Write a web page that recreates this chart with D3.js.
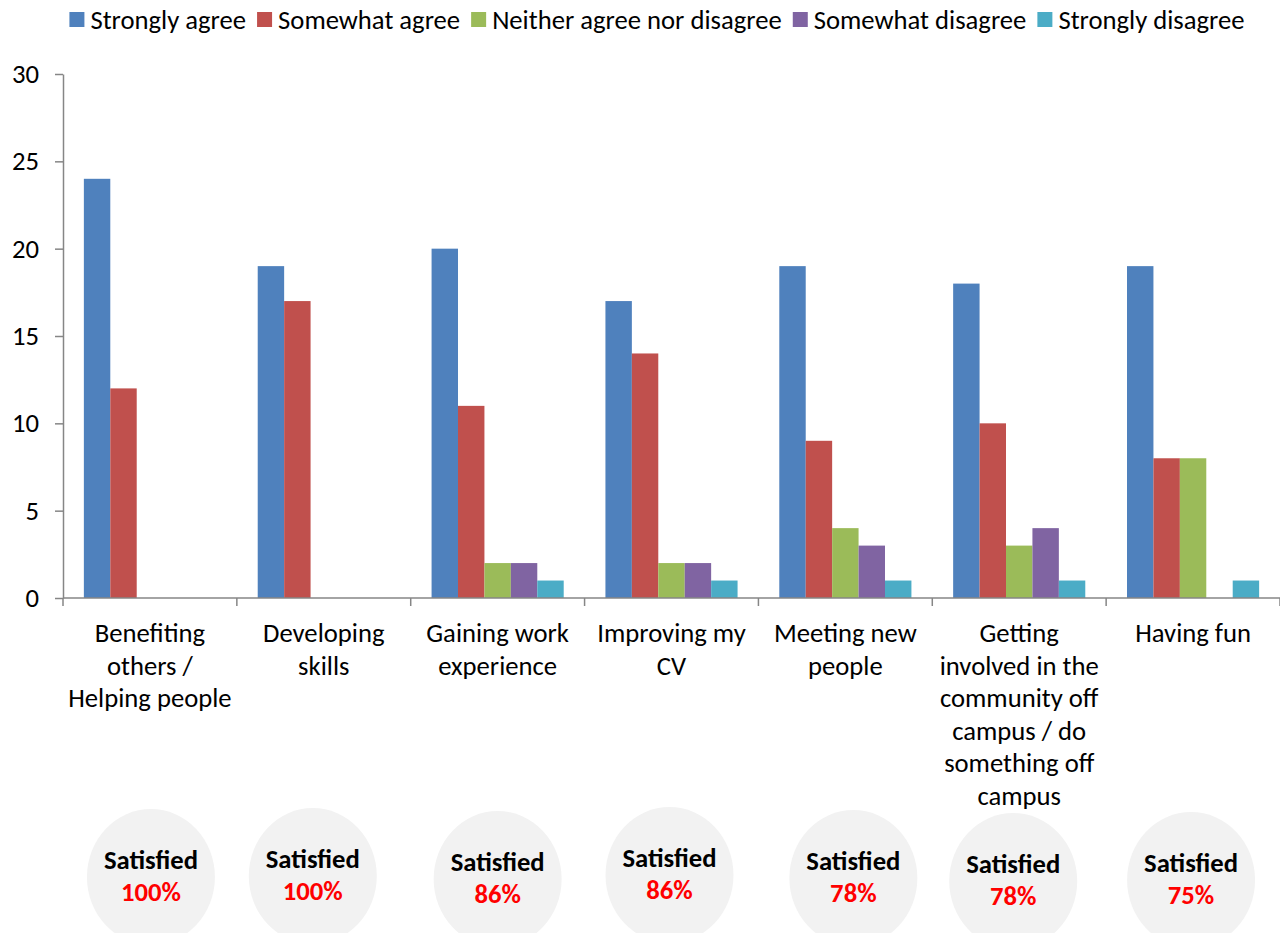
<!DOCTYPE html>
<html>
<head>
<meta charset="utf-8">
<script src="https://cdn.jsdelivr.net/npm/d3@7/dist/d3.min.js"></script>
<style>
  html, body { margin: 0; padding: 0; background: #ffffff; }
  svg { display: block; }
  text { font-family: Carlito, Calibri, "Open Sans", Lato, sans-serif; }
</style>
</head>
<body>
<svg id="chart" width="1280" height="933"></svg>
<script>
// Survey categories (wrapped into lines for the axis labels)
const categories = [
  "Benefiting others / Helping people",
  "Developing skills",
  "Gaining work experience",
  "Improving my CV",
  "Meeting new people",
  "Getting involved in the community off campus / do something off campus",
  "Having fun"
];
const categoryLines = [
  ["Benefiting", "others /", "Helping people"],
  ["Developing", "skills"],
  ["Gaining work", "experience"],
  ["Improving my", "CV"],
  ["Meeting new", "people"],
  ["Getting", "involved in the", "community off", "campus / do", "something off", "campus"],
  ["Having fun"]
];

// Response options
const seriesNames = [
  "Strongly agree",
  "Somewhat agree",
  "Neither agree nor disagree",
  "Somewhat disagree",
  "Strongly disagree"
];
const seriesColors = ["#4F81BD", "#C0504D", "#9BBB59", "#8064A2", "#4BACC6"];

// Number of responses per option, one array per option
const stronglyAgree    = [24, 19, 20, 17, 19, 18, 19];
const somewhatAgree    = [12, 17, 11, 14, 9, 10, 8];
const neitherAgree     = [0, 0, 2, 2, 4, 3, 8];
const somewhatDisagree = [0, 0, 2, 2, 3, 4, 0];
const stronglyDisagree = [0, 0, 1, 1, 1, 1, 1];
const seriesValues = [stronglyAgree, somewhatAgree, neitherAgree, somewhatDisagree, stronglyDisagree];

// Overall satisfaction per category (%)
const satisfied = [100, 100, 86, 86, 78, 78, 75];

const yTicks = [0, 5, 10, 15, 20, 25, 30];

// ---- layout ----
const svg = d3.select("#chart");
const plotLeft = 63, plotRight = 1280, plotTop = 74, plotBottom = 598;
const axisColor = "#868686";
const baseFont = 26.67;   // 20pt

const x = d3.scaleBand().domain(categories).range([plotLeft, plotRight]).padding(0);
const bw = x.bandwidth();
const gap = bw * 0.12;
const xInner = d3.scaleBand().domain(seriesNames).range([gap, bw - gap]).padding(0);
const y = d3.scaleLinear().domain([0, 30]).range([plotBottom, plotTop]);

// bars
const groups = svg.append("g").selectAll("g")
  .data(categories)
  .join("g")
  .attr("transform", d => `translate(${x(d)},0)`);

groups.selectAll("rect")
  .data((c, i) => seriesNames.map((s, k) => ({ s, k, v: seriesValues[k][i] })).filter(d => d.v > 0))
  .join("rect")
  .attr("x", d => xInner(d.s))
  .attr("width", xInner.bandwidth())
  .attr("y", d => y(d.v))
  .attr("height", d => y(0) - y(d.v))
  .attr("fill", d => seriesColors[d.k]);

// y axis
const yAxis = svg.append("g")
  .attr("transform", `translate(${plotLeft},0)`)
  .call(d3.axisLeft(y).tickValues(yTicks).tickSize(8).tickSizeOuter(0).tickPadding(16));
yAxis.select(".domain").attr("stroke", axisColor).attr("stroke-width", 1.5);
yAxis.selectAll(".tick line").attr("stroke", axisColor).attr("stroke-width", 1.5);
yAxis.selectAll(".tick text")
  .attr("fill", "#000")
  .style("font-size", baseFont + "px");

// x axis: baseline + ticks at category boundaries
const xAxis = svg.append("g");
xAxis.append("line")
  .attr("x1", plotLeft).attr("x2", plotRight)
  .attr("y1", y(0)).attr("y2", y(0))
  .attr("stroke", axisColor).attr("stroke-width", 1.5);
const boundaries = categories.map(c => x(c)).concat([x(categories[categories.length - 1]) + bw]);
xAxis.selectAll("line.tk")
  .data(boundaries)
  .join("line")
  .attr("class", "tk")
  .attr("x1", d => d).attr("x2", d => d)
  .attr("y1", y(0)).attr("y2", y(0) + 8)
  .attr("stroke", axisColor).attr("stroke-width", 1.5);

// category labels
const labels = svg.append("g").selectAll("text")
  .data(categories)
  .join("text")
  .attr("text-anchor", "middle")
  .attr("fill", "#000")
  .style("font-size", baseFont + "px");
labels.each(function (c, i) {
  const t = d3.select(this);
  categoryLines[i].forEach((line, j) => {
    t.append("tspan")
      .attr("x", x(c) + bw / 2)
      .attr("y", 642 + j * 32.5)
      .text(line);
  });
});

// satisfaction badges
const badgeShift = [1, -11, 0, -2, 8, -6, -2];
const badgeTop = [809, 808, 811, 807, 810, 813, 812];
const badges = svg.append("g").selectAll("g")
  .data(categories)
  .join("g")
  .attr("transform", (c, i) => `translate(${x(c) + bw / 2 + badgeShift[i]},${badgeTop[i]})`);
badges.append("ellipse")
  .attr("cx", 0).attr("cy", 68)
  .attr("rx", 64).attr("ry", 68)
  .attr("fill", "#F2F2F2");
badges.append("text")
  .attr("text-anchor", "middle")
  .attr("y", 60)
  .attr("fill", "#000")
  .style("font-size", baseFont + "px")
  .style("font-weight", "bold")
  .text("Satisfied");
badges.append("text")
  .attr("text-anchor", "middle")
  .attr("y", 92)
  .attr("fill", "#FF0000")
  .style("font-size", baseFont + "px")
  .style("font-weight", "bold")
  .text((c, i) => satisfied[i] + "%");

// legend
const legend = svg.append("g");
const sq = 15, sqGap = 6, itemGap = 11;
const items = legend.selectAll("g")
  .data(seriesNames)
  .join("g");
items.append("rect")
  .attr("width", sq).attr("height", sq)
  .attr("y", 12)
  .attr("fill", (d, i) => seriesColors[i]);
items.append("text")
  .attr("x", sq + sqGap)
  .attr("y", 29)
  .attr("fill", "#000")
  .style("font-size", baseFont + "px")
  .text(d => d);
const widths = [];
items.each(function () {
  widths.push(sq + sqGap + d3.select(this).select("text").node().getComputedTextLength());
});
const total = d3.sum(widths) + itemGap * (widths.length - 1);
let cursor = 657 - total / 2;
items.attr("transform", (d, i) => {
  const tx = cursor;
  cursor += widths[i] + itemGap;
  return `translate(${tx},0)`;
});
</script>
</body>
</html>
